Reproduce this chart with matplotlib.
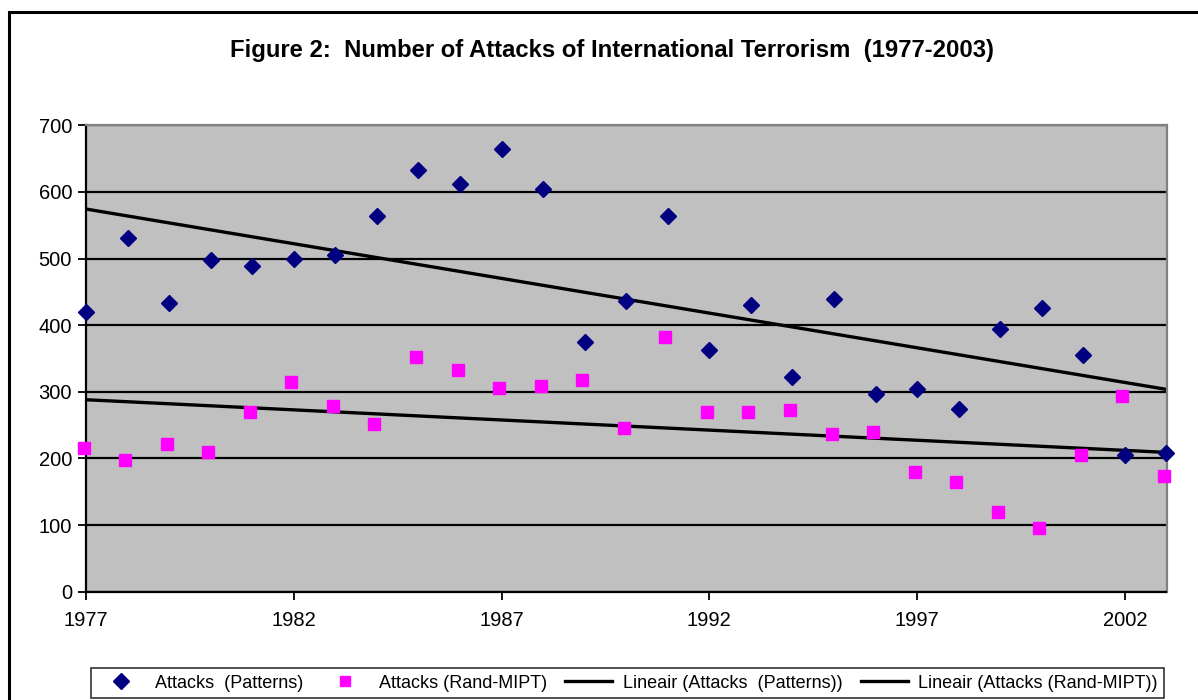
import numpy as np
import matplotlib
matplotlib.use("Agg")
import matplotlib.pyplot as plt
from matplotlib.patches import Rectangle

plt.rcParams['font.family'] = ['Liberation Sans', 'DejaVu Sans']

years = list(range(1977, 2004))
patterns = [420, 531, 434, 498, 489, 500, 506, 564, 633, 612, 665, 605, 375,
            437, 564, 363, 431, 322, 440, 296, 304, 274, 395, 426, 355, 205, 208]
rand_mipt = [215, 197, 221, 209, 270, 314, 278, 251, 353, 332, 306, 308, 317,
             245, 383, 269, 269, 272, 236, 239, 179, 164, 119, 95, 205, 293, 173]
xticks = [1977, 1982, 1987, 1992, 1997, 2002]
yticks = [0, 100, 200, 300, 400, 500, 600, 700]
title = "Figure 2:  Number of Attacks of International Terrorism  (1977-2003)"
labels = ["Attacks  (Patterns)", "Attacks (Rand-MIPT)",
          "Lineair (Attacks  (Patterns))", "Lineair (Attacks (Rand-MIPT))"]

W, H = 1198, 700
fig = plt.figure(figsize=(W / 100, H / 100), dpi=100)
fig.patch.set_facecolor('white')

# outer chart border
fig.patches.append(Rectangle((9 / W, -0.05), 1.2, (H - 12) / H + 0.05,
                             transform=fig.transFigure, fill=False,
                             edgecolor='black', linewidth=2.2, zorder=0))

left, right, top, bottom = 86, 1166.5, 125.3, 591.7
ax = fig.add_axes([left / W, 1 - bottom / H, (right - left) / W, (bottom - top) / H])
ax.set_facecolor('#C0C0C0')

x = np.array(years, dtype=float)
p = np.array(patterns, dtype=float)
r = np.array(rand_mipt, dtype=float)

ax.plot(x, p, linestyle='none', marker='D', markersize=8.5, color='#000080',
        label=labels[0], zorder=6, clip_on=False)
ax.plot(x - 0.06, r, linestyle='none', marker='s', markersize=8, color='#FF00FF',
        label=labels[1], zorder=6, clip_on=False)

cp = np.polyfit(x, p, 1)
cr = np.polyfit(x, r, 1)
xx = np.array([years[0], years[-1]], dtype=float)
ax.plot(xx, np.polyval(cp, xx), color='black', linewidth=2.4, label=labels[2], zorder=3)
ax.plot(xx, np.polyval(cr, xx), color='black', linewidth=2.4, label=labels[3], zorder=3)

ax.set_xlim(years[0], years[-1])
ax.set_ylim(0, 700)
ax.set_xticks(xticks)
ax.set_yticks(yticks)
ax.set_xticklabels([str(t) for t in xticks])
ax.set_yticklabels([str(t) for t in yticks])
ax.yaxis.grid(True, color='black', linewidth=1.6)
ax.set_axisbelow(True)
ax.tick_params(axis='both', direction='out', length=6, width=1.3, color='black',
               labelsize=14.5)
ax.tick_params(axis='x', pad=8)
ax.tick_params(axis='y', pad=4)
for s in ['left', 'bottom']:
    ax.spines[s].set_color('black')
    ax.spines[s].set_linewidth(1.6)
for s in ['top', 'right']:
    ax.spines[s].set_color('#808080')
    ax.spines[s].set_linewidth(1.6)
for sp in ax.spines.values():
    sp.set_zorder(5)

fig.text(612 / W, 1 - 50 / H, title, ha='center', va='center',
         fontsize=17.2, fontweight='bold')

leg = fig.legend(loc='center', bbox_to_anchor=(627.5 / W, 1 - 683 / H), ncol=4,
                 frameon=True, fancybox=False, fontsize=13, handlelength=2.6,
                 handletextpad=0.6, columnspacing=1.0, borderpad=0.35,
                 markerscale=0.9)
leg.get_frame().set_edgecolor('black')
leg.get_frame().set_linewidth(1.2)

fig.savefig('out.png', dpi=100)
